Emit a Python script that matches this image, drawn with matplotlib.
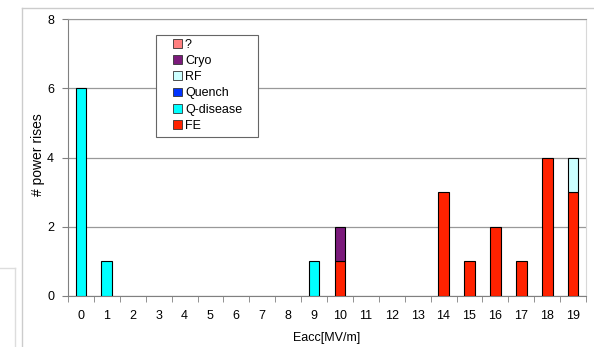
import matplotlib.pyplot as plt
from matplotlib.lines import Line2D
import numpy as np

eacc = [str(i) for i in range(20)]
fe = [0, 0, 0, 0, 0, 0, 0, 0, 0, 0, 1, 0, 0, 0, 3, 1, 2, 1, 4, 3]
qdisease = [6, 1, 0, 0, 0, 0, 0, 0, 0, 1, 0, 0, 0, 0, 0, 0, 0, 0, 0, 0]
quench = [0] * 20
rf = [0, 0, 0, 0, 0, 0, 0, 0, 0, 0, 0, 0, 0, 0, 0, 0, 0, 0, 0, 1]
cryo = [0, 0, 0, 0, 0, 0, 0, 0, 0, 0, 1, 0, 0, 0, 0, 0, 0, 0, 0, 0]
unknown = [0] * 20

series = [
    ("FE", fe, "#ff2200"),
    ("Q-disease", qdisease, "#00ffff"),
    ("Quench", quench, "#0033ff"),
    ("RF", rf, "#ccffff"),
    ("Cryo", cryo, "#7b1a7b"),
    ("?", unknown, "#ff8080"),
]

plt.rcParams['font.family'] = ['Liberation Sans', 'DejaVu Sans']

fig = plt.figure(figsize=(5.94, 3.47), dpi=100)
ax = fig.add_axes([68 / 594, 1 - 296 / 347, 518 / 594, 277 / 347])

x = np.arange(len(eacc))
bottom = np.zeros(len(eacc))
handles = []
for name, vals, col in series:
    vals = np.array(vals)
    nz = vals > 0
    # zero-height segments are not drawn
    ax.bar(x[nz], vals[nz], width=0.42, bottom=bottom[nz], color=col,
           edgecolor="black", linewidth=0.8, zorder=3)
    bottom += vals
    handles.append(plt.Rectangle((0, 0), 1, 1, facecolor=col,
                                 edgecolor="#333333", linewidth=0.6, label=name))

ax.set_xlim(-0.5, 19.5)
ax.set_ylim(0, 8)
ax.set_yticks([0, 2, 4, 6, 8])
ax.yaxis.grid(True, color="#999999", linewidth=0.9, zorder=0)
ax.set_xticks(x)
ax.set_xticklabels(eacc)
ax.set_xticks(np.arange(-0.5, 20, 1), minor=True)
ax.tick_params(axis="x", which="major", length=0, labelsize=9, pad=10)
ax.tick_params(axis="x", which="minor", length=4, color="#808080", direction="out")
ax.tick_params(axis="y", length=4, color="#808080", labelsize=9, pad=6)

for s in ["left", "bottom"]:
    ax.spines[s].set_color("#808080")
ax.spines["top"].set_color("#999999")
ax.spines["right"].set_color("#d8d8d8")

ax.set_xlabel("Eacc[MV/m]", fontsize=9, labelpad=7)
ax.set_ylabel("# power rises", fontsize=10)
ax.yaxis.set_label_coords(-0.044, 0.51)

# legend box drawn separately to get the wide padding of the original
box = plt.Rectangle(((156 - 68) / 518, (296 - 137) / 277), 102 / 518, 102 / 277,
                    transform=ax.transAxes, facecolor="white",
                    edgecolor="#666666", linewidth=0.8, zorder=4)
ax.add_patch(box)
leg = ax.legend(handles=handles[::-1], loc="upper left",
                bbox_to_anchor=((173 - 68) / 518, (296 - 38.5) / 277), fontsize=9,
                handlelength=0.7, handleheight=0.7, handletextpad=0.25,
                labelspacing=0.34, borderpad=0, frameon=False, borderaxespad=0)
leg.set_zorder(5)

# light border of the chart area
fig.add_artist(Line2D([22 / 594, 22 / 594], [0, 1 - 8 / 347], color="#cccccc", linewidth=1))
fig.add_artist(Line2D([22 / 594, 1], [1 - 8 / 347, 1 - 8 / 347], color="#cccccc", linewidth=1))
fig.add_artist(Line2D([15 / 594, 15 / 594], [0, 1 - 268 / 347], color="#dddddd", linewidth=1))
fig.add_artist(Line2D([0, 15 / 594], [1 - 268 / 347, 1 - 268 / 347], color="#dddddd", linewidth=1))

fig.savefig("out.png", dpi=100)
